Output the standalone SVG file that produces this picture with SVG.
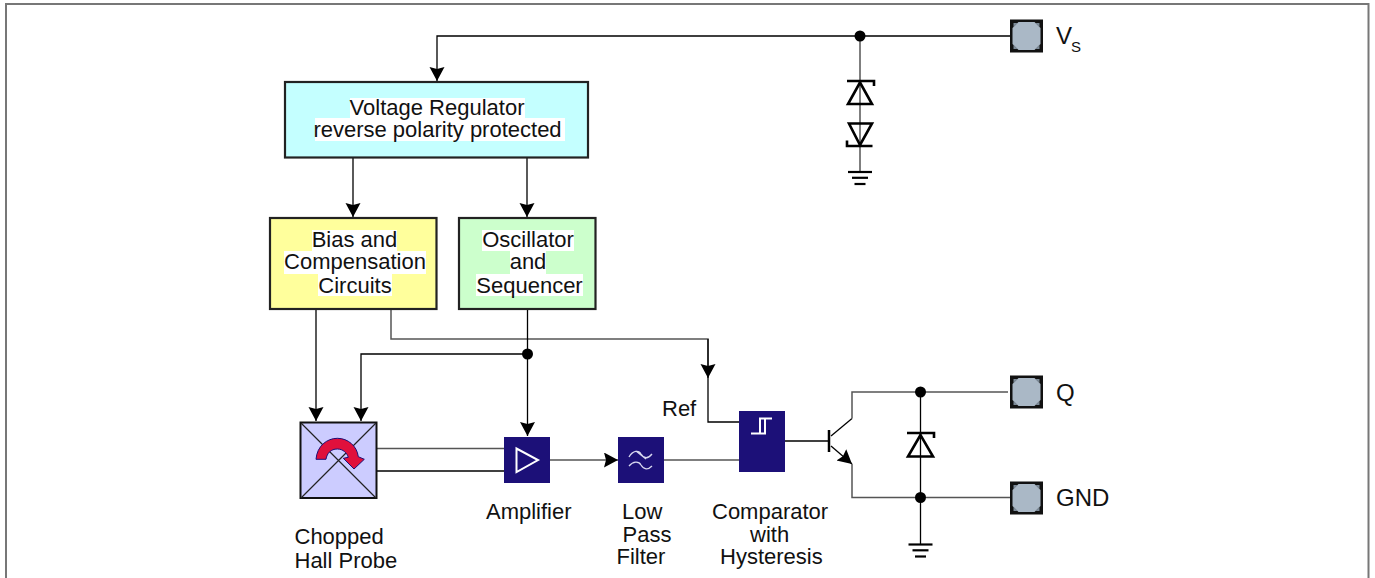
<svg xmlns="http://www.w3.org/2000/svg" width="1375" height="578" viewBox="0 0 1375 578">
<defs>
<marker id="arr" markerUnits="userSpaceOnUse" markerWidth="16" markerHeight="16" refX="14" refY="7.500" orient="auto"><path d="M0 0L14 7.500L0 15L2 7.500Z" fill="#000"/></marker>
<g id="pad"><rect x="-16.500" y="-16.500" width="33" height="33" fill="#111"/><path d="M-13 -13L-9 -13L-13 -9ZM13 -13L13 -9L9 -13ZM13 13L9 13L13 9ZM-13 13L-13 9L-9 13Z" fill="#7d8b99"/><path d="M-8 -14H8L14 -8V8L8 14H-8L-14 8V-8Z" fill="#aab8c6"/></g>
<g id="gnd"><path d="M-12 0H12" stroke-width="2.200"/><path d="M-8 5.800H8" stroke-width="2.200"/><path d="M-5.500 12H5.500" stroke-width="2.200"/></g>
</defs>
<style>
text{font-family:"Liberation Sans",Arial,sans-serif;font-size:22px;fill:#111}
.p{font-size:24px}
.w{fill:none;stroke:#000;stroke-width:1.300}
.g{fill:none;stroke:#555;stroke-width:1.500}
.box{stroke:#222;stroke-width:2.200}
.dark{fill:#1c1078}
.sym{fill:none;stroke:#000;stroke-width:2.600}
.s{fill:none;stroke:#fff;stroke-width:2}
.t{fill:none;stroke:#d8d8f0;stroke-width:1.300}
.bg{fill:#fff}
.m{text-anchor:middle}
</style>
<rect x="6" y="4" width="1362.500" height="590" fill="#fff" stroke="#777" stroke-width="2"/>
<g id="connectors">
<path class="w" d="M1010 36H437V81" marker-end="url(#arr)"/>
<path class="g" d="M860 36V172"/>
<path class="w" d="M353 158V217" marker-end="url(#arr)"/>
<path class="w" d="M527 158V217" marker-end="url(#arr)"/>
<path class="w" d="M316 309V421" marker-end="url(#arr)"/>
<path class="g" d="M391 309V339H708V378"/>
<path class="w" d="M708 339V378" marker-end="url(#arr)"/>
<path class="w" d="M708 378V422H739"/>
<path class="w" d="M527.500 309V436" marker-end="url(#arr)"/>
<path class="w" d="M527 354H361V421" marker-end="url(#arr)"/>
<path class="g" d="M377 448.500H504"/>
<path class="w" d="M377 471H504"/>
<path class="g" d="M550 460H618" marker-end="url(#arr)"/>
<path class="g" d="M664 460H739"/>
<path class="w" d="M785 441H829"/>
<path class="w" d="M831 436L852 418.500"/>
<path class="g" d="M852 418.500V392H1008"/>
<path class="w" d="M831 446L852 464" marker-end="url(#arr)"/>
<path class="g" d="M852 464V497.500H1010"/>
<path class="w" d="M920.500 392V544"/>
<circle cx="860" cy="36" r="5.500"/>
<circle cx="527.500" cy="354" r="5.500"/>
<circle cx="920.500" cy="392" r="5.500"/>
<circle cx="920.500" cy="497.500" r="5.500"/>
</g>
<g id="vreg"><rect class="box" x="285" y="82" width="303" height="75.500" fill="#c4ffff"/>
<rect class="bg" x="350" y="98" width="175" height="20"/><rect class="bg" x="315" y="118" width="250" height="23"/>
<text x="437" y="115" class="m">Voltage Regulator</text><text x="437.500" y="137" class="m">reverse polarity protected</text></g>
<g id="bias"><rect class="box" x="270" y="218" width="166.500" height="91" fill="#ffff9c"/>
<rect class="bg" x="312" y="230" width="85" height="21"/><rect class="bg" x="284" y="251" width="142" height="23"/><rect class="bg" x="318" y="274" width="74" height="22"/>
<text x="354.500" y="246.500" class="m">Bias and</text><text x="355" y="269" class="m">Compensation</text><text x="355" y="292.500" class="m">Circuits</text></g>
<g id="osc"><rect class="box" x="459" y="218" width="136.500" height="91" fill="#ccffcc"/>
<rect class="bg" x="482" y="230" width="92" height="21"/><rect class="bg" x="510" y="251" width="36" height="23"/><rect class="bg" x="476" y="274" width="107" height="22"/>
<text x="528" y="246.500" class="m">Oscillator</text><text x="528" y="269" class="m">and</text><text x="529.500" y="292.500" class="m">Sequencer</text></g>
<g id="probe"><rect x="300.500" y="422.500" width="76" height="75.500" fill="#ccccff" stroke="#111" stroke-width="2"/>
<path d="M301 423L376 498M376 423L301 498" stroke="#222" stroke-width="1.200"/>
<path d="M316 459.300C317 446 327 438.300 337.300 438.300C348 438.300 357 446 358.300 456.700L364.300 459.300L354 469L343.300 458.300L348.300 457.300C347 453 343 449 337.300 449C331 449 327 453 326 459.300Z" fill="#e0103c" stroke="#1c1078" stroke-width="1"/>
<text x="294.500" y="544">Chopped</text><text x="294.500" y="568">Hall Probe</text></g>
<g id="amp"><rect class="dark" x="504" y="437" width="46" height="46"/><path class="s" d="M516.500 448.500V472L538 460Z"/><text x="486" y="518.500">Amplifier</text></g>
<g id="lpf"><rect class="dark" x="618" y="437" width="46" height="46"/>
<path class="t" d="M629 457C633 450 639 450 641 454C644 459 648 459 652 454M629 466C633 461 639 461 641 465C644 470 648 470 652 466M636 451L646 459"/>
<text x="622" y="518.500">Low</text><text x="622.500" y="542">Pass</text><text x="616.500" y="563.500">Filter</text></g>
<g id="comp"><rect class="dark" x="739" y="411" width="46" height="61"/><path class="s" d="M751 433.500H765V419M760 433.500V418.500H772"/>
<text x="712" y="518.500">Comparator</text><text x="750" y="542">with</text><text x="720" y="563.500">Hysteresis</text><text x="662" y="416">Ref</text></g>
<g id="transistor"><path d="M829 430V452" stroke="#000" stroke-width="2.500"/></g>
<g id="d1"><path class="sym" d="M874 86V81H847M860 82.500L848 104H872Z"/></g>
<g id="d2"><path class="sym" d="M847 140.500V146H872.500M849 123.500H872L860 145Z"/></g>
<g id="d3"><path class="sym" d="M934 438V433H907M920.500 435L908 456.500H933Z"/></g>
<use href="#gnd" x="860" y="172" stroke="#000"/>
<use href="#gnd" x="920.500" y="544.500" stroke="#000"/>
<g id="vs"><use href="#pad" x="1026.500" y="36"/><text class="p" x="1056" y="44">V</text><text x="1071" y="51.500" style="font-size:15px">S</text></g>
<g id="q"><use href="#pad" x="1026.500" y="392"/><text class="p" x="1056" y="401">Q</text></g>
<g id="gndpin"><use href="#pad" x="1026.500" y="498"/><text class="p" x="1056" y="505.500">GND</text></g>
</svg>
